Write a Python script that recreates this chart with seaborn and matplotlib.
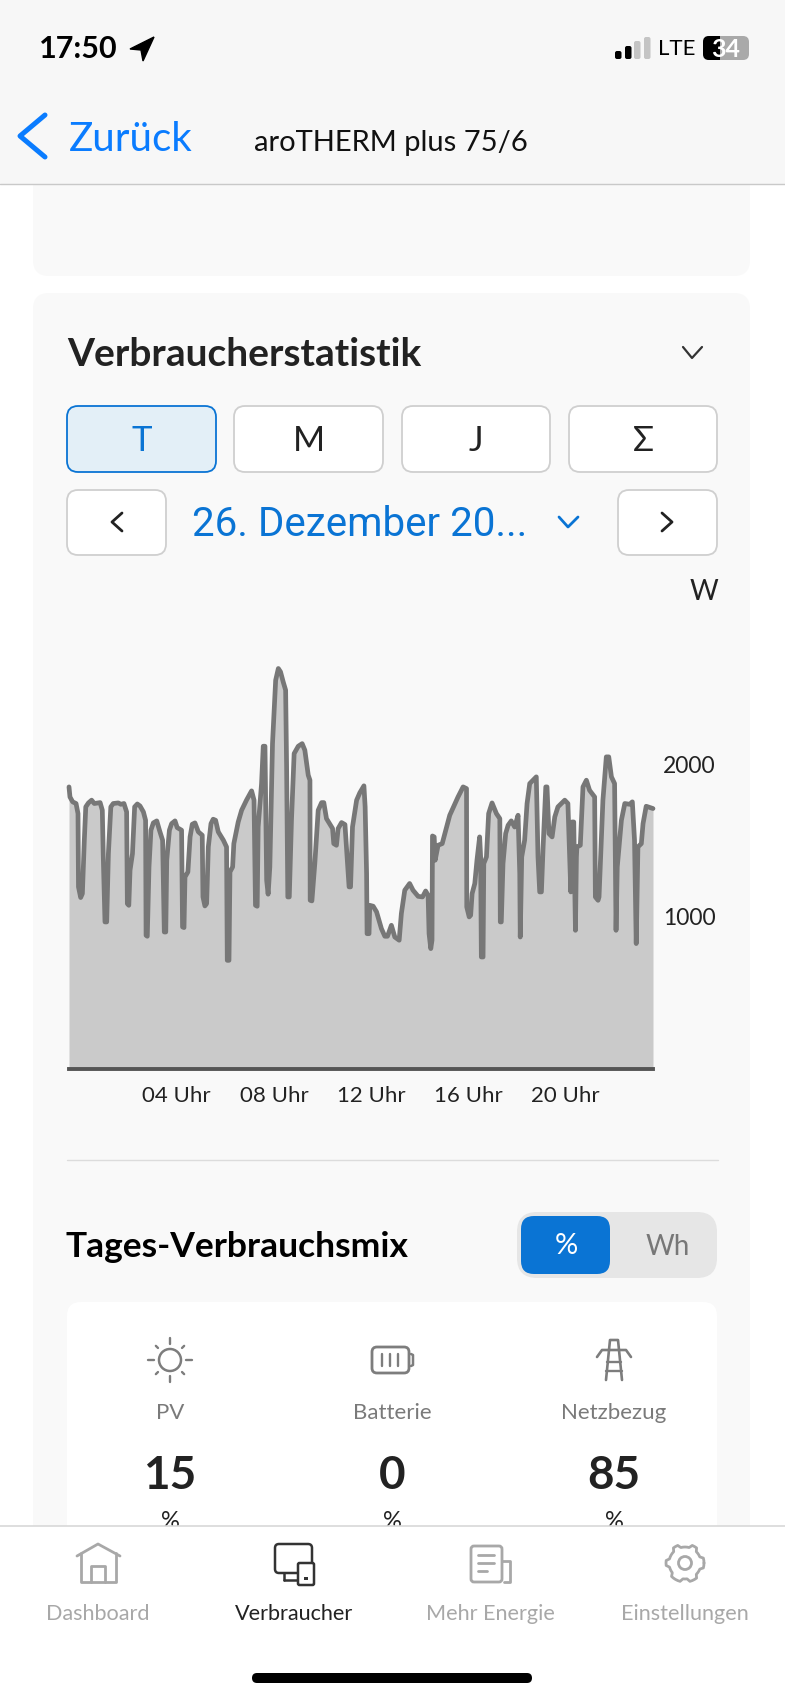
import numpy as np
import matplotlib
matplotlib.use('agg')
import matplotlib.pyplot as plt
from matplotlib.patches import FancyBboxPatch, Rectangle, Circle, Polygon
import seaborn as sns

# -----------------------------
# data
# -----------------------------
hours = [-0.43, -0.39, -0.28, -0.14, -0.06, -0.04, 0.05, 0.12, 0.20, 0.26, 0.37, 0.50, 0.61, 0.85, 0.94, 0.98,
         1.05, 1.12, 1.19, 1.29, 1.39, 1.60, 1.70, 1.83, 1.94, 1.97, 2.03, 2.08, 2.18, 2.27, 2.38, 2.49,
         2.63, 2.72, 2.74, 2.79, 2.86, 2.94, 3.04, 3.18, 3.29, 3.42, 3.49, 3.55, 3.59, 3.70, 3.79, 3.93,
         4.02, 4.20, 4.24, 4.30, 4.34, 4.46, 4.55, 4.64, 4.75, 4.89, 5.05, 5.08, 5.16, 5.23, 5.30, 5.41,
         5.50, 5.60, 5.71, 5.92, 6.05, 6.08, 6.15, 6.19, 6.30, 6.35, 6.53, 6.67, 6.87, 7.08, 7.18, 7.24,
         7.31, 7.35, 7.49, 7.56, 7.63, 7.70, 7.76, 7.83, 7.94, 8.07, 8.18, 8.27, 8.38, 8.48, 8.52, 8.57,
         8.63, 8.72, 8.83, 9.00, 9.16, 9.27, 9.41, 9.48, 9.49, 9.56, 9.68, 9.82, 9.96, 10.05, 10.16, 10.41,
         10.46, 10.57, 10.64, 10.78, 10.92, 11.01, 11.09, 11.15, 11.23, 11.40, 11.53, 11.70, 11.75, 11.81,
         11.83, 11.91, 11.94, 12.08, 12.22, 12.42, 12.56, 12.67, 12.83, 12.97, 13.15, 13.24, 13.38, 13.58,
         13.72, 13.93, 14.11, 14.24, 14.34, 14.38, 14.45, 14.50, 14.52, 14.59, 14.63, 14.75, 14.92, 15.23,
         15.57, 15.78, 15.92, 15.93, 16.03, 16.09, 16.15, 16.26, 16.35, 16.46, 16.50, 16.53, 16.60, 16.63,
         16.74, 16.83, 16.97, 17.15, 17.29, 17.31, 17.35, 17.42, 17.53, 17.63, 17.76, 17.90, 18.04, 18.11,
         18.13, 18.19, 18.31, 18.41, 18.52, 18.79, 18.86, 18.93, 19.00, 19.07, 19.18, 19.23, 19.31, 19.44,
         19.55, 19.68, 19.96, 20.09, 20.16, 20.21, 20.26, 20.33, 20.40, 20.44, 20.46, 20.60, 20.71, 20.85,
         20.98, 21.19, 21.22, 21.33, 21.37, 21.53, 21.67, 21.77, 21.88, 22.01, 22.07, 22.12, 22.29, 22.43,
         22.63, 22.74, 22.83, 22.90, 22.97, 23.11, 23.18, 23.31, 23.59]
watts = [1851, 1785, 1753, 1742, 1676, 1195, 1125, 1151, 1501, 1720, 1746, 1764, 1742, 1748, 1698, 1392,
         965, 965, 1413, 1720, 1742, 1746, 1737, 1742, 1687, 1085, 1074, 1304, 1413, 1720, 1739, 1726,
         1687, 1632, 877, 871, 1326, 1567, 1615, 1628, 1567, 1501, 899, 899, 1370, 1567, 1610, 1628,
         1584, 1567, 932, 928, 1260, 1293, 1523, 1606, 1615, 1556, 1534, 1129, 1070, 1085, 1457, 1610,
         1639, 1632, 1556, 1501, 1457, 713, 713, 1293, 1326, 1479, 1621, 1698, 1764, 1825, 1764, 1074,
         1068, 1588, 1873, 2118, 2118, 1238, 1147, 1326, 2135, 2551, 2628, 2606, 2540, 2486, 1982, 1129,
         1129, 1632, 2070, 2118, 2135, 2092, 1928, 1895, 1107, 1103, 1348, 1698, 1748, 1748, 1643, 1578,
         1479, 1468, 1578, 1617, 1604, 1392, 1195, 1195, 1588, 1764, 1812, 1858, 1720, 1282,
         888, 888, 1074, 1068, 1031, 921, 871, 871, 943, 866, 845, 1020, 1173, 1217,
         1173, 1133, 1129, 1168, 1140, 888, 790, 845, 1529, 1523, 1370, 1468, 1479, 1665,
         1785, 1851, 1840, 1063, 998, 1009, 1151, 1217, 1370, 1523, 1392, 735, 735, 1348,
         1392, 1676, 1746, 1676, 1643, 965, 965, 1348, 1545, 1599, 1628, 1588, 1665, 1282,
         866, 1392, 1501, 1742, 1873, 1917, 1392, 1162, 1162, 1457, 1851, 1851, 1545, 1523,
         1654, 1720, 1764, 1742, 1392, 1162, 1621, 1621, 910, 1392, 1457, 1468, 1851, 1895,
         1829, 1785, 1129, 1107, 1129, 1764, 2048, 2048, 1917, 1873, 910, 1326, 1632, 1742,
         1737, 1753, 1501, 823, 1457, 1479, 1610, 1724, 1709]
x_ticks = [4, 8, 12, 16, 20]
x_labels = ['04 Uhr', '08 Uhr', '12 Uhr', '16 Uhr', '20 Uhr']
y_ticks = [1000, 2000]
y_labels = ['1000', '2000']

mix_names = ['PV', 'Batterie', 'Netzbezug']
mix_values = [15, 0, 85]
tab_names = ['Dashboard', 'Verbraucher', 'Mehr Energie', 'Einstellungen']

BLUE = '#0a74d4'
IOS_BLUE = '#0a7cff'
DARK = '#222222'
ICON = '#7d7d7d'
TAB = '#a8a8a8'
CARD = '#f9f9f9'
W, H = 785, 1700

sns.set_theme(style='white')
plt.rcParams['font.family'] = ['Lato', 'DejaVu Sans']

fig = plt.figure(figsize=(W / 100, H / 100), dpi=100, facecolor='white')
bg = fig.add_axes([0, 0, 1, 1])
bg.set_xlim(0, W)
bg.set_ylim(H, 0)
bg.axis('off')


def box(x0, y0, x1, y1, fc, ec='none', lw=0, r=10, z=1):
    p = FancyBboxPatch((x0 + r, y0 + r), x1 - x0 - 2 * r, y1 - y0 - 2 * r,
                       boxstyle=f'round,pad={r},rounding_size={r}',
                       fc=fc, ec=ec, lw=lw, zorder=z)
    bg.add_patch(p)


def stroke(xs, ys, color, lw=2.0, z=5):
    bg.plot(xs, ys, color=color, lw=lw, solid_capstyle='round',
            solid_joinstyle='round', zorder=z)


def label(x, y, s, size, color=DARK, weight='normal', ha='center', z=6, family=None):
    bg.text(x, y, s, fontsize=size, color=color, fontweight=weight, ha=ha,
            va='center', zorder=z, family=family)


# cards
box(33, 120, 750, 276, CARD, r=16)
box(33, 293, 750, 1640, CARD, r=16)

# top bar
bg.add_patch(Rectangle((0, 0), W, 184, fc='#f7f7f7', ec='none', zorder=3))
bg.plot([0, W], [184, 184], color='#c9c9c9', lw=1, zorder=4)
label(39, 49, '17:50', 22, '#000000', 'bold', ha='left')
bg.add_patch(Polygon([[154, 37], [130, 49], [141, 50], [143, 61]], fc='black', ec='black', lw=1, zorder=5))
for i, (bx, bh, col) in enumerate(zip([615, 625, 634, 644], [8, 13, 18, 22],
                                      ['black', 'black', '#c4c4c4', '#c4c4c4'])):
    box(bx, 59 - bh, bx + 6.5, 59, col, r=2, z=5)
label(658, 49, 'LTE', 16, '#000000', ha='left')
box(703, 36, 749, 60, '#a9a9a9', r=6, z=5)
box(703, 36, 720, 60, 'black', r=6, z=5)
bg.add_patch(Rectangle((714, 36), 6, 24, fc='black', ec='none', zorder=5))
label(726, 49, '34', 18, 'white', 'bold', z=7)
stroke([45, 20, 45], [115, 136, 157], IOS_BLUE, lw=3.6)
label(69, 139, 'Zurück', 29, IOS_BLUE, ha='left')
label(254, 143, 'aroTHERM plus 75/6', 21, '#111111', ha='left')

# header of the chart card
label(67, 354, 'Verbraucherstatistik', 28, DARK, 'bold', ha='left')
stroke([683, 692, 702], [347, 358, 347], '#333333', lw=1.6)

for (x0, x1), s, active in zip([(67, 216), (234, 383), (402, 550), (569, 717)],
                               ['T', 'M', 'J', 'Σ'], [True, False, False, False]):
    box(x0, 406, x1, 472, '#e3eff7' if active else 'white', BLUE if active else '#cfcfcf', 1.3, r=11, z=2)
    label((x0 + x1) / 2, 441, s, 25, BLUE if active else DARK)

box(67, 490, 166, 555, 'white', '#cfcfcf', 1.3, r=11, z=2)
box(618, 490, 717, 555, 'white', '#cfcfcf', 1.3, r=11, z=2)
stroke([122, 112, 122], [513, 522, 531], DARK, lw=2)
stroke([662, 672, 662], [513, 522, 531], DARK, lw=2)
label(192, 525, '26. Dezember 20...', 29, BLUE, ha='left', family='Roboto')
stroke([559, 568, 578], [517, 527, 517], BLUE, lw=2)
label(704, 592, 'W', 20, DARK)

# -----------------------------
# the chart itself
# -----------------------------
x_left, x_right, y_top, y_bottom = 69, 653, 640, 1069
ax = fig.add_axes([x_left / W, 1 - y_bottom / H, (x_right - x_left) / W, (y_bottom - y_top) / H])
ax.patch.set_alpha(0)
ax.fill_between(hours, 0, watts, color='#cacaca', lw=0)
sns.lineplot(x=hours, y=watts, ax=ax, color='#777777', linewidth=3.4, sort=False, estimator=None)
for ln in ax.get_lines():
    ln.set_solid_joinstyle('round')
    ln.set_clip_on(False)
ax.set_xlim(hours[0], hours[-1])
ax.set_ylim(0, 2815)
ax.set_xticks(x_ticks)
ax.set_xticklabels(x_labels, fontsize=16, color=DARK)
ax.yaxis.tick_right()
ax.set_yticks(y_ticks)
ax.set_yticklabels(y_labels, fontsize=16.5, color=DARK)
ax.tick_params(axis='both', length=0)
ax.tick_params(axis='x', pad=12.5)
ax.tick_params(axis='y', pad=7)
sns.despine(ax=ax, left=True, right=True, top=True)
ax.spines['bottom'].set_color('#555555')
ax.spines['bottom'].set_linewidth(2.8)

# -----------------------------
# daily mix
# -----------------------------
bg.plot([67, 718], [1160, 1160], color='#dcdcdc', lw=1, zorder=2)
label(66, 1247, 'Tages-Verbrauchsmix', 25.5, '#000000', 'bold', ha='left')
box(517, 1212, 717, 1278, '#e6e6e6', r=20, z=2)
box(521, 1216, 610, 1274, BLUE, r=13, z=3)
label(566, 1246, '%', 21, 'white')
label(668, 1247, 'Wh', 20, '#777777')
box(67, 1302, 717, 1640, 'white', r=14, z=2)

mix_x = [170, 392, 614]
for mx, name, val in zip(mix_x, mix_names, mix_values):
    label(mx, 1413, name, 16, '#7a7a7a')
    label(mx, 1476, str(val), 33, DARK, 'bold')
    label(mx, 1522, '%', 17, DARK)

# sun icon
bg.add_patch(Circle((170, 1360), 11, fc='none', ec=ICON, lw=1.8, zorder=5))
for a in np.arange(0, 360, 45):
    ca, sa = np.cos(np.radians(a)), np.sin(np.radians(a))
    r0, r1 = (16, 22) if a % 90 == 0 else (17, 20)
    stroke([170 + r0 * ca, 170 + r1 * ca], [1360 + r0 * sa, 1360 + r1 * sa], ICON, lw=1.7)

# battery icon
box(372, 1347, 409, 1373, 'none', ICON, 2, r=5, z=5)
stroke([411, 413, 413, 411], [1354, 1355, 1365, 1366], ICON, lw=1.8)
for bx in [382, 390, 398]:
    stroke([bx, bx], [1354, 1366], ICON, lw=1.7)

# pylon icon
stroke([606, 610, 618, 622], [1380, 1340, 1340, 1380], ICON, lw=1.9)
stroke([597, 602, 626, 631], [1357, 1350, 1350, 1357], ICON, lw=1.9)
stroke([607, 621], [1362, 1362], ICON, lw=1.7)
stroke([606, 622], [1371, 1371], ICON, lw=1.7)

# -----------------------------
# tab bar
# -----------------------------
bg.add_patch(Rectangle((0, 1526), W, 174, fc='white', ec='none', zorder=8))
bg.plot([0, W], [1526, 1526], color='#d8d8d8', lw=1.2, zorder=9)
tab_x = [98, 294, 490, 685]
for tx, name in zip(tab_x, tab_names):
    label(tx, 1614, name, 15.6, DARK if name == 'Verbraucher' else TAB, z=9)

# house
stroke([77, 98, 120], [1556, 1544, 1556], TAB, lw=2, z=9)
stroke([81, 81, 116, 116], [1553, 1582, 1582, 1553], TAB, lw=2, z=9)
stroke([91, 91, 105, 105], [1582, 1566, 1566, 1582], TAB, lw=2, z=9)
# device
box(275, 1544, 312, 1573, 'white', '#333333', 1.8, r=4, z=9)
stroke([284, 284], [1573, 1580], '#333333', lw=1.8, z=9)
stroke([284, 299], [1580, 1580], '#333333', lw=1.8, z=9)
box(298, 1563, 314, 1585, 'white', '#333333', 1.8, r=1.5, z=10)
bg.add_patch(Rectangle((304, 1577), 4, 3, fc='#333333', ec='none', zorder=11))
# doc
box(471, 1546, 502, 1582, 'white', TAB, 2, r=3, z=9)
stroke([502, 510, 510, 504], [1561, 1561, 1582, 1582], TAB, lw=2, z=9)
for yy, x1 in zip([1555, 1563, 1571], [494, 494, 487]):
    stroke([478, x1], [yy, yy], TAB, lw=2, z=10)
# gear
bg.add_patch(Circle((685, 1563), 6.5, fc='none', ec=TAB, lw=2, zorder=9))
angles = np.radians(np.arange(0, 360, 7.5))
gear_r = 19 - 3 * (np.cos(6 * angles) < 0)
stroke(list(685 + gear_r * np.cos(angles)) + [685 + gear_r[0]], list(1563 + gear_r * np.sin(angles)) + [1563], TAB, lw=2, z=9)

# home indicator
box(252, 1673, 532, 1683, 'black', r=5, z=9)

plt.savefig('out.png', dpi=100, facecolor='white')
